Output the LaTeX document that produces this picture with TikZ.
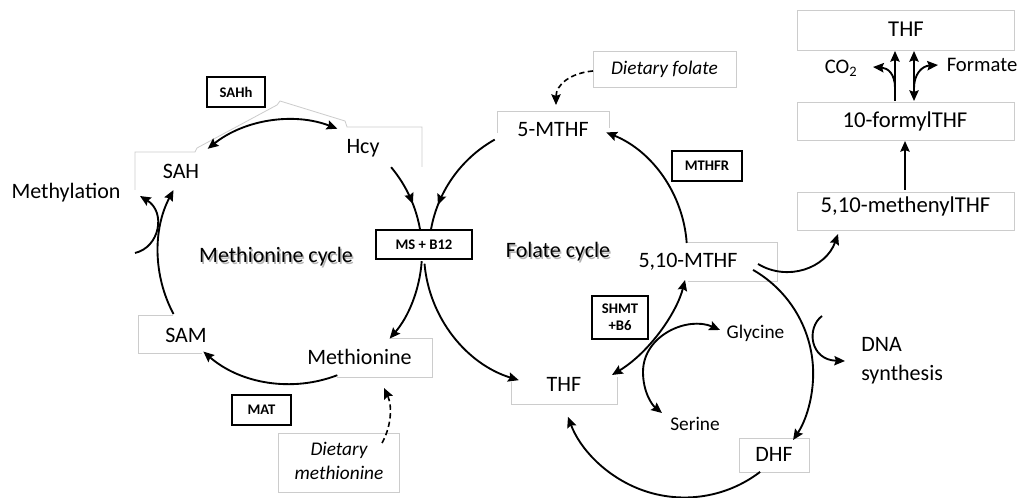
\documentclass[tikz,border=0pt]{standalone}
\usepackage{fontspec}
\setmainfont{Carlito}
\usetikzlibrary{arrows.meta,decorations.markings}

\begin{document}
\begin{tikzpicture}[x=0.75pt,y=-0.75pt,
  >={Stealth[length=8pt,width=7pt,inset=1.2pt]},
  line/.style={line width=1.4pt},
  flow/.style={line, ->},
  twoway/.style={line, <->},
  feed/.style={line width=1.2pt, dash pattern=on 4pt off 2.5pt, ->},
  midarrow/.style={postaction={decorate},
    decoration={markings, mark=at position #1 with {\arrow{>}}}},
  enzyme/.style={draw, fill=white, line width=1.1pt, inner sep=0pt, align=center,
    font=\fontsize{11}{13}\selectfont\bfseries},
  faint/.style={draw=black!20, line width=0.6pt},
  big/.style={anchor=base, inner sep=0pt, font=\fontsize{16.5}{19}\selectfont},
  bigr/.style={anchor=base, inner sep=0pt, font=\fontsize{17}{20}\selectfont},
  small/.style={anchor=base, inner sep=0pt, font=\fontsize{14.5}{17}\selectfont},
  diet/.style={anchor=base, inner sep=0pt, font=\fontsize{14.5}{17}\selectfont\itshape},
]
\useasboundingbox[fill=white] (0,0) rectangle (1023,498);

% ---------- light outlines of the label boxes ----------
\draw[faint] (135,190) -- (135,152) -- (195,152) -- (197,148) -- (277,105) -- (280,101)
  -- (345,121) -- (347,127) -- (422,127) -- (422,167);
\draw[faint] (173,315) -- (138,315) -- (138,353) -- (202,353);
\draw[faint] (390,338) -- (432,338) -- (432,377) -- (337,377);
\draw[faint] (278,433) rectangle (399,492);
\draw[faint] (497,133) -- (497,111) -- (609,111) -- (609,128);
\draw[faint] (593,51) rectangle (736,87);
\draw[faint] (688,242) -- (777,242) -- (777,281) -- (688,281);
\draw[faint] (511,382) -- (511,404) -- (617,404) -- (617,377);
\draw[faint] (739,438) rectangle (809,472);
\draw[faint] (797,192) rectangle (1014,230);
\draw[faint] (797,102) rectangle (1014,140);
\draw[faint] (797,10) rectangle (1014,50);

% ---------- labels ----------
\node[big] (methylation) at (66,199) {Methylation};
\node[big] (sah) at (181,179) {SAH};
\node[big] (hcy) at (363,154) {Hcy};
\node[big] (sam) at (186,343) {SAM};
\node[big] (met) at (359.5,365) {Methionine};
\node[diet, align=center] (dietmet) at (339,479) {Dietary\\[0.5pt]methionine};
\node[diet] (dietfol) at (664.5,75) {Dietary folate};
\node[big] (mthf) at (553,136.5) {5-MTHF};
\node[big] (mthf510) at (688,268) {5,10-MTHF};
\node[big] (thf) at (564,391.5) {THF};
\node[big] (dhf) at (774,461.5) {DHF};
\node[small] (gly) at (755.5,339) {Glycine};
\node[small] (ser) at (695,430) {Serine};
\node[big, align=left, anchor=base west] (dna) at (861,380) {DNA\\[2pt]synthesis};
\node[bigr] (methenyl) at (905.5,213) {5,10-methenylTHF};
\node[bigr] (formyl) at (905,127.5) {10-formylTHF};
\node[bigr] (thftop) at (906,36.5) {THF};
\node[small, font=\fontsize{15.5}{18}\selectfont] (co2) at (841,74) {CO\textsubscript{2}};
\node[small, font=\fontsize{15.5}{18}\selectfont] (formate) at (982,72) {Formate};

% cycle titles with their soft shadow
\node[big, text=black!30] (metshadow) at (277.5,264.5) {Methionine cycle};
\node[big] (mettitle) at (276,263) {Methionine cycle};
\node[big, text=black!30] (folshadow) at (559.5,259.5) {Folate cycle};
\node[big] (foltitle) at (558,258) {Folate cycle};

% ---------- connector end points ----------
\coordinate (samout) at (173.5,314);
\coordinate (metout) at (337.3,375.2);
\coordinate (sahend) at (207.7,148.8);
\coordinate (hcyout) at (391.1,167.2);
\coordinate (msmet) at (421.7,261.2);
\coordinate (mthfout) at (494.7,139.6);
\coordinate (msthf) at (424.5,263.7);
\coordinate (mthf510up) at (686.7,243);
\coordinate (mthf510right) at (758,264);
\coordinate (methenylin) at (838,234);
\coordinate (mthf510down) at (753,269.9);
\coordinate (dnafrom) at (822,316);
\coordinate (dnato) at (845,361);
\coordinate (dhfout) at (760.1,471.9);
\coordinate (thfright) at (612,375);
\coordinate (mthf510low) at (685,280);
\coordinate (glyin) at (720,330);
\coordinate (serin) at (662,413);
\coordinate (methylfrom) at (135,253);
\coordinate (methylto) at (140,196);
\coordinate (dietmetout) at (382,443);
\coordinate (metin) at (384,388);
\coordinate (dietfolout) at (593,71);
\coordinate (mthfin) at (556,105);
\coordinate (methenylout) at (905,190);
\coordinate (formylin) at (905,141);
\coordinate (formylleft) at (895,101);
\coordinate (thftopleft) at (895,51);
\coordinate (co2branch) at (895,88);
\coordinate (co2in) at (873,67);
\coordinate (formylright) at (914,101);
\coordinate (thftopright) at (914,51);
\coordinate (formatebranch) at (914,88);
\coordinate (formatein) at (938,65);

% ---------- methionine cycle ----------
\draw[flow] (samout) arc[start angle=152, end angle=208, radius=132];
\draw[flow] (metout) arc[start angle=69, end angle=131, radius=132];
\draw[twoway] (sahend) arc[start angle=-128.6, end angle=-69, radius=132];
\draw[line, midarrow=0.6] (hcyout) arc[start angle=-40, end angle=-9, radius=132];
\draw[flow] (msmet) arc[start angle=4, end angle=41, radius=132];
\draw[flow] (methylfrom) .. controls (160,247) and (166,212) .. (methylto);
\draw[feed] (dietmetout) .. controls (392,425) and (392,405) .. (metin);

% ---------- folate cycle ----------
\draw[line, midarrow=0.76] (mthfout) arc[start angle=-119.4, end angle=-171, radius=129];
\draw[flow] (msthf) arc[start angle=175, end angle=107, radius=134];
\draw[flow] (mthf510up) arc[start angle=-4, end angle=-68, radius=129];
\draw[feed] (dietfolout) .. controls (570,73) and (556,85) .. (mthfin);
\draw[twoway] (thfright) .. controls (650,352) and (677,312) .. (mthf510low);
\draw[twoway] (glyin) .. controls (688,316) and (643,335) .. (643,372)
  .. controls (643,392) and (652,405) .. (serin);

% ---------- DHF loop ----------
\draw[flow] (mthf510down) arc[start angle=-60.2, end angle=33.7, radius=119.6];
\draw[flow] (dhfout) arc[start angle=52.6, end angle=159.4, radius=124.5];
\draw[flow] (dnafrom) .. controls (806,328) and (810,360) .. (dnato);

% ---------- formyl branch ----------
\draw[flow] (mthf510right) .. controls (788,282) and (826,268) .. (methenylin);
\draw[flow] (methenylout) -- (formylin);
\draw[flow] (formylleft) -- (thftopleft);
\draw[flow] (co2branch) .. controls (895,74) and (888,68) .. (co2in);
\draw[twoway] (formylright) -- (thftopright);
\draw[flow] (formatebranch) .. controls (914,74) and (922,66) .. (formatein);

% ---------- enzymes ----------
\node[enzyme, minimum width=43.5pt, minimum height=22.5pt] (sahh) at (236,92) {SAHh};
\node[enzyme, minimum width=72pt, minimum height=21.75pt] (ms) at (424,244.5) {MS + B12};
\node[enzyme, minimum width=44.25pt, minimum height=22.5pt] (mat) at (261.5,410) {MAT};
\node[enzyme, minimum width=52.5pt, minimum height=22.5pt] (mthfr) at (707,166) {MTHFR};
\node[enzyme, minimum width=42pt, minimum height=32.25pt] (shmt) at (620,317.5) {SHMT\\+B6};
\end{tikzpicture}
\end{document}
